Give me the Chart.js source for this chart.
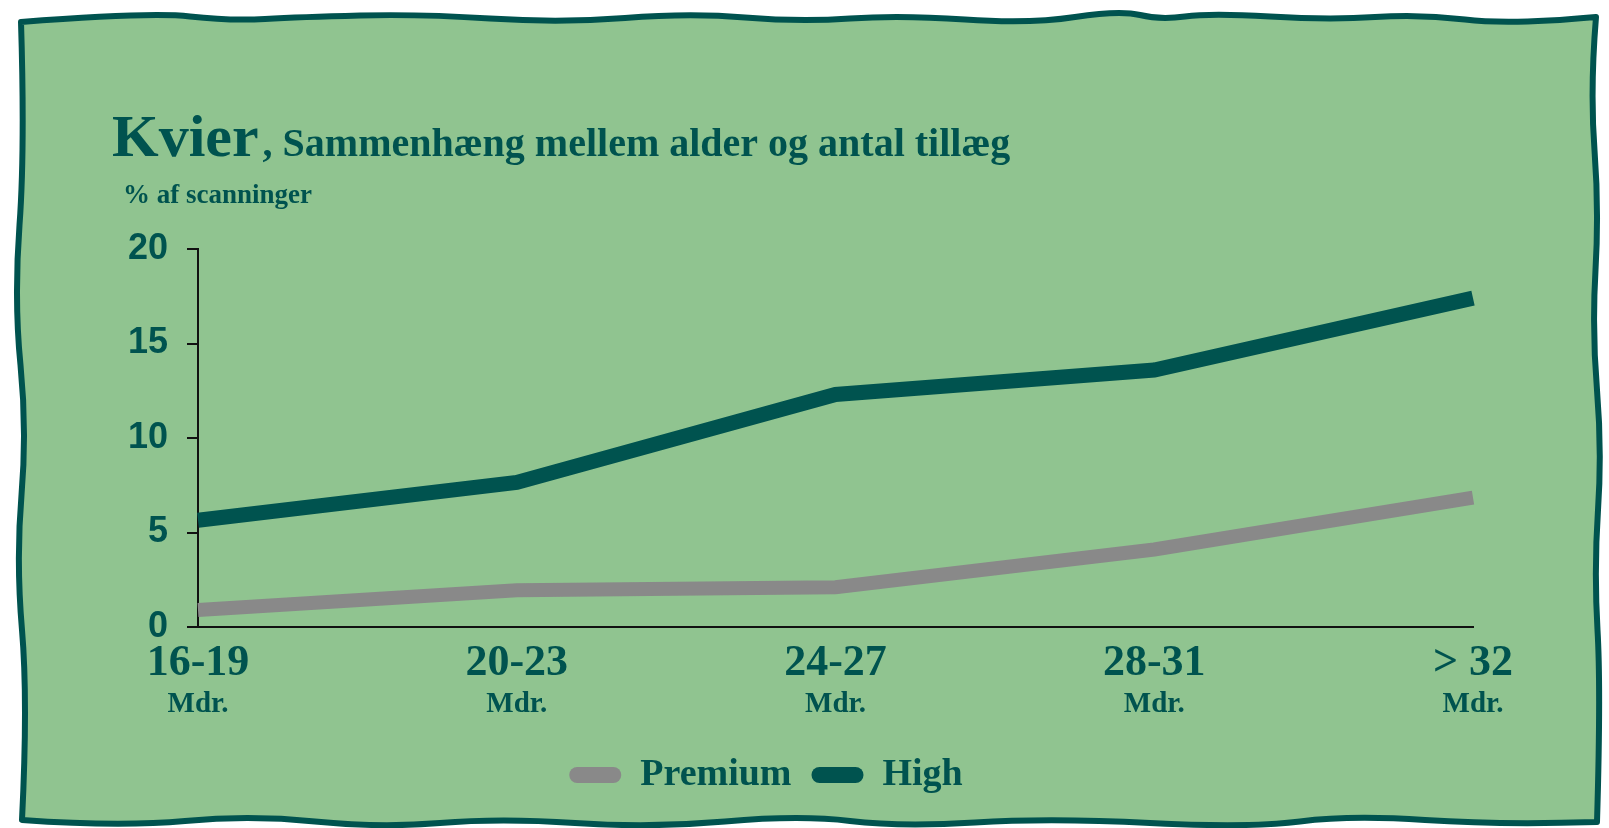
<!DOCTYPE html>
<html>
<head>
<meta charset="utf-8">
<script src="https://cdn.jsdelivr.net/npm/chart.js@4.4.1/dist/chart.umd.min.js"></script>
<style>
  html, body { margin: 0; background: #fff; }
  #wrap { width: 1609px; height: 828px; position: relative; }
</style>
</head>
<body>
<div id="wrap"><canvas id="chart"></canvas></div>
<script>
// Values (% af scanninger)
const ageGroups = ["16-19", "20-23", "24-27", "28-31", "> 32"];
const ageUnit = "Mdr.";
const premiumShare = [0.9, 1.95, 2.1, 4.1, 6.85];
const highShare = [5.65, 7.65, 12.3, 13.6, 17.4];
const seriesNames = ["Premium", "High"];

const TEAL = "#00534f";
const GREEN = "#90c490";
const GREY = "#898989";
const SERIF = "'Liberation Serif', 'DejaVu Serif', serif";
const SANS = "'Liberation Sans', Arial, sans-serif";

// Hand-drawn looking frame: each side runs corner to corner through a few wobbles.
const frameSides = [
  [[21, 22], [150, 12], [230, 21], [300, 17], [420, 14], [560, 23], [690, 13], [800, 22],
   [900, 15], [1030, 24], [1120, 10], [1160, 20], [1210, 13], [1330, 20], [1420, 14], [1510, 25], [1596, 17]],
  [[1596, 17], [1590, 90], [1599, 210], [1592, 330], [1602, 450], [1594, 570], [1601, 690], [1597, 822]],
  [[1597, 822], [1500, 825], [1350, 815], [1250, 828], [1050, 818], [900, 827], [800, 815], [650, 828],
   [500, 818], [380, 828], [250, 815], [120, 827], [22, 820]],
  [[22, 820], [28, 700], [16, 560], [27, 430], [14, 300], [25, 150], [21, 22]],
];

const framePlugin = {
  id: "frame",
  beforeDraw(chart) {
    const ctx = chart.ctx;
    const mid = (a, b) => [(a[0] + b[0]) / 2, (a[1] + b[1]) / 2];
    ctx.save();
    ctx.beginPath();
    ctx.moveTo(frameSides[0][0][0], frameSides[0][0][1]);
    frameSides.forEach((side) => {
      for (let i = 1; i < side.length - 1; i++) {
        const q = i < side.length - 2 ? mid(side[i], side[i + 1]) : side[i + 1];
        ctx.quadraticCurveTo(side[i][0], side[i][1], q[0], q[1]);
      }
    });
    ctx.closePath();
    ctx.fillStyle = GREEN;
    ctx.fill();
    ctx.lineWidth = 6;
    ctx.lineJoin = "round";
    ctx.strokeStyle = TEAL;
    ctx.stroke();
    ctx.restore();
  },
};

// Title with mixed sizes, plus the y unit line above the axis.
const headingPlugin = {
  id: "heading",
  afterDraw(chart) {
    const ctx = chart.ctx;
    ctx.save();
    ctx.fillStyle = TEAL;
    ctx.textBaseline = "alphabetic";
    ctx.textAlign = "left";
    ctx.font = `bold 60px ${SERIF}`;
    ctx.fillText("Kvier", 112, 156);
    const w = ctx.measureText("Kvier").width;
    ctx.font = `bold 40px ${SERIF}`;
    ctx.fillText(", Sammenhæng mellem alder og antal tillæg", 112 + w + 4, 156);
    ctx.font = `bold 27px ${SERIF}`;
    ctx.fillText("% af scanninger", 123, 203);
    ctx.restore();
  },
};

// Second, smaller line under each x tick label.
const unitLinePlugin = {
  id: "unitLine",
  afterDraw(chart) {
    const ctx = chart.ctx;
    const x = chart.scales.x;
    ctx.save();
    ctx.fillStyle = TEAL;
    ctx.font = `bold 29px ${SERIF}`;
    ctx.textAlign = "center";
    ctx.textBaseline = "middle";
    ageGroups.forEach((_, i) => {
      ctx.fillText(ageUnit, x.getPixelForTick(i), 705);
    });
    ctx.restore();
  },
};

new Chart(document.getElementById("chart"), {
  type: "line",
  data: {
    labels: ageGroups,
    datasets: [
      {
        label: seriesNames[0],
        data: premiumShare,
        borderColor: GREY,
        backgroundColor: GREY,
        borderWidth: 14,
      },
      {
        label: seriesNames[1],
        data: highShare,
        borderColor: TEAL,
        backgroundColor: TEAL,
        borderWidth: 15,
      },
    ],
  },
  options: {
    responsive: true,
    maintainAspectRatio: false,
    animation: false,
    layout: { padding: { left: 59, right: 136, top: 249, bottom: 24 } },
    elements: {
      line: { tension: 0, borderCapStyle: "butt", borderJoinStyle: "miter" },
      point: { radius: 0, hoverRadius: 0 },
    },
    scales: {
      x: {
        offset: false,
        grid: { display: false, drawTicks: false },
        border: { display: true, color: "#111", width: 2 },
        ticks: {
          color: TEAL,
          font: { family: SERIF, size: 44, weight: "bold" },
          padding: 10,
          maxRotation: 0,
          autoSkip: false,
        },
        afterFit: (scale) => { scale.height = 109; },
      },
      y: {
        min: 0,
        max: 20,
        grid: { drawOnChartArea: false, drawTicks: true, tickLength: 11, color: "#111", lineWidth: 2 },
        border: { display: true, color: "#111", width: 2 },
        ticks: {
          stepSize: 5,
          color: TEAL,
          font: { family: SANS, size: 36, weight: "bold" },
          padding: 19,
        },
        afterFit: (scale) => { scale.width = 139; },
      },
    },
    plugins: {
      tooltip: { enabled: false },
      legend: {
        position: "bottom",
        labels: {
          color: TEAL,
          font: { family: SERIF, size: 38, weight: "bold" },
          boxWidth: 52,
          boxHeight: 16,
          padding: 20,
          useBorderRadius: true,
          borderRadius: 8,
          generateLabels: (chart) =>
            chart.data.datasets.map((ds, i) => ({
              text: ds.label,
              fillStyle: ds.borderColor,
              strokeStyle: ds.borderColor,
              lineWidth: 0,
              fontColor: TEAL,
              borderRadius: 8,
              datasetIndex: i,
            })),
        },
      },
    },
  },
  plugins: [framePlugin, headingPlugin, unitLinePlugin],
});
</script>
</body>
</html>
